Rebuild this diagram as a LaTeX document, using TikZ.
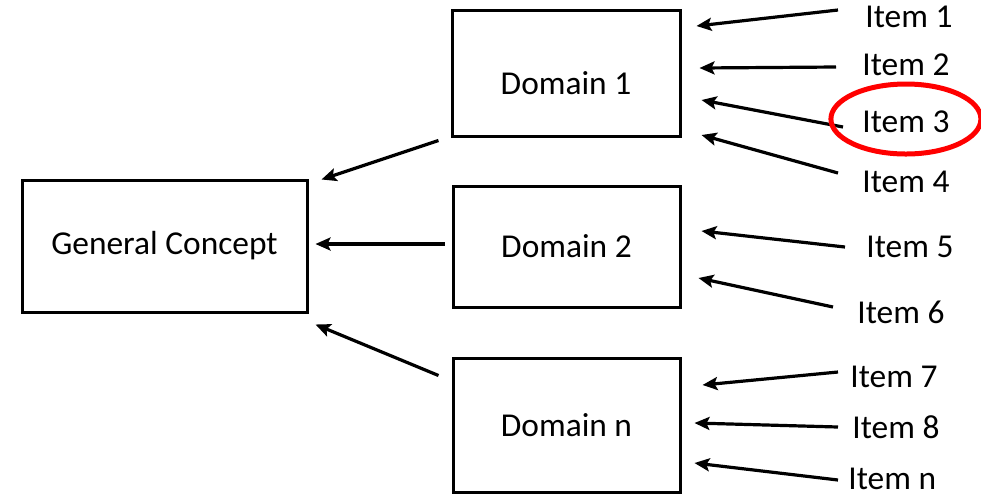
\documentclass[tikz,border=0pt]{standalone}
\usepackage{fontspec}
\setmainfont{Carlito}
\usetikzlibrary{calc}
\usetikzlibrary{arrows.meta}

\begin{document}
\begin{tikzpicture} [x=0.5pt, y=-0.5pt, font=\fontsize{16.7}{20}\selectfont,
  box/.style={draw, line width=1.5pt, inner sep=0},
  item/.style={anchor=west, inner sep=0},
  arr/.style={black, line width=1.6pt, -{Stealth[length=7.5pt, width=6.5pt, inset=1.5pt]}}]
\useasboundingbox (0,0) rectangle (981,495);
\node[box, minimum width=142.5pt, minimum height=66pt] (gc) at (164.5,246) {General Concept};
\node[box, minimum width=114pt, minimum height=63pt] (d1) at (566,73) {\raisebox{-5pt}[\height][\depth]{Domain 1}};
\node[box, minimum width=113.5pt, minimum height=60.5pt] (d2) at (566.5,246.5) {Domain 2};
\node[box, minimum width=113.5pt, minimum height=67pt] (dn) at (566.5,425) {Domain n};
\node[item] (i1) at (865,17) {Item 1};
\node[item] (i2) at (862,65) {Item 2};
\node[item] (i3) at (862,122) {Item 3};
\node[item] (i4) at (862,182) {Item 4};
\node[item] (i5) at (866,247) {Item 5};
\node[item] (i6) at (857,312) {Item 6};
\node[item] (i7) at (850,377) {Item 7};
\node[item] (i8) at (852,427) {Item 8};
\node[item] (in) at (848,478.5) {Item n};
% domains to the concept
\draw[arr] ($(d1.south west)+(-12,3)$) -- ($(gc.north east)+(13,1)$);
\draw[arr] ($(d2.west)+(-7,-2.5)$) -- ($(gc.east)+(7,-2)$);
\draw[arr] ($(dn.north west)+(-13,19)$) -- ($(gc.south east)+(7,11)$);
% items to the domains
\foreach \i/\d/\tx/\ty/\hx/\hy in {i1/d1/-27/-7/15/-47, i2/d1/-26/2/18/-5, i3/d1/-19/5/20/27,
  i4/d1/-24/-9/20/62, i5/d2/-21/0/20/-15.5, i6/d2/-24/-5/17/31.5,
  i7/dn/-12/-5/21/-40, i8/dn/-14/0/13/-2, in/dn/-10/1.5/13/38} {
 \draw[arr] ($(\i.west)+(\tx,\ty)$) -- ($(\d.east)+(\hx,\hy)$);
}
\draw[red, line width=2.5pt] ($(i3.center)+(0,-3)$) ellipse [x radius=37.5pt, y radius=17.5pt];
\end{tikzpicture}
\end{document}
